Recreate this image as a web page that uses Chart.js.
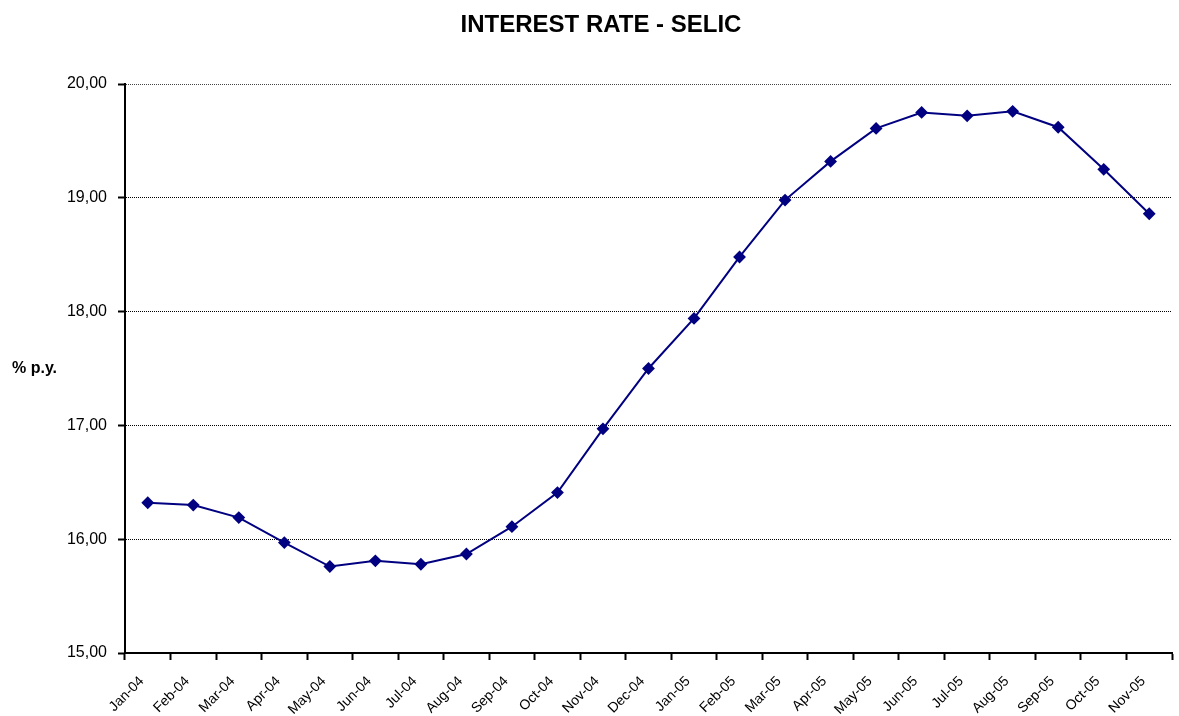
<!DOCTYPE html>
<html>
<head>
<meta charset="utf-8">
<script src="https://cdn.jsdelivr.net/npm/chart.js@4/dist/chart.umd.min.js"></script>
<style>
	html, body { margin: 0; padding: 0; background: #fff; }
	#wrap { width: 1179px; height: 716px; }
</style>
</head>
<body>
<div id="wrap"><canvas id="selicChart"></canvas></div>
<script>
// categories (monthly)
const months = ["Jan-04", "Feb-04", "Mar-04", "Apr-04", "May-04", "Jun-04", "Jul-04", "Aug-04",
	"Sep-04", "Oct-04", "Nov-04", "Dec-04", "Jan-05", "Feb-05", "Mar-05", "Apr-05",
	"May-05", "Jun-05", "Jul-05", "Aug-05", "Sep-05", "Oct-05", "Nov-05"];

// SELIC rate, % p.y.
const selic = [16.32, 16.30, 16.19, 15.97, 15.76, 15.81, 15.78, 15.87,
	16.11, 16.41, 16.97, 17.50, 17.94, 18.48, 18.98, 19.32,
	19.61, 19.75, 19.72, 19.76, 19.62, 19.25, 18.86];

// y axis range
const yMin = 15;
const yMax = 20;
const yStep = 1;

const chartTitle = "INTEREST RATE - SELIC";
const yLabel = "% p.y.";

const lineColor = "#000080";

//draws the title and the horizontal "% p.y." label
const textPlugin = {
	id: "textPlugin",
	afterDraw(chart) {
		let ctx = chart.ctx;
		let area = chart.chartArea;
		ctx.save();
		ctx.fillStyle = "#000";
		ctx.textBaseline = "middle";

		ctx.font = "bold 24px 'Liberation Sans', Arial, sans-serif";
		ctx.textAlign = "center";
		ctx.fillText(chartTitle, 601, 25);

		ctx.font = "bold 16px 'Liberation Sans', Arial, sans-serif";
		ctx.textAlign = "left";
		ctx.fillText(yLabel, 12, (area.top + area.bottom) / 2);
		ctx.restore();
	}
};

let ctxL = document.getElementById("selicChart").getContext("2d");
let selicChart = new Chart(ctxL, {
	type: "line",
	data: {
		labels: months,
		datasets: [{
			label: "SELIC",
			data: selic,
			borderColor: lineColor,
			backgroundColor: lineColor,
			borderWidth: 2,
			pointStyle: "rectRot",
			pointRadius: 5,
			pointHoverRadius: 5,
			pointBackgroundColor: lineColor,
			pointBorderColor: lineColor,
			tension: 0
		}]
	},
	options: {
		responsive: true,
		maintainAspectRatio: false,
		animation: false,
		layout: {
			padding: { left: 0, right: 7, top: 84, bottom: 0 }
		},
		plugins: {
			legend: { display: false },
			tooltip: { enabled: false },
			title: { display: false }
		},
		scales: {
			x: {
				type: "category",
				offset: true,
				grid: {
					display: true,
					offset: true,
					drawOnChartArea: false,
					drawTicks: true,
					tickLength: 7,
					tickColor: "#000",
					tickWidth: 2
				},
				border: { display: true, color: "#000", width: 2 },
				ticks: {
					autoSkip: false,
					maxRotation: 45,
					minRotation: 45,
					padding: 13,
					labelOffset: -6,
					color: "#000",
					font: { family: "'Liberation Sans Narrow', 'Liberation Sans', Arial, sans-serif", size: 14 }
				},
				afterFit(scale) {
					scale.height = 63;
				}
			},
			y: {
				min: yMin,
				max: yMax,
				grid: {
					color: (c) => {
						if (c.tick && c.tick.value === yMin) return "rgba(0,0,0,0)";
						if (c.tick && c.tick.value === yMax) return "#444";
						return "#000";
					},
					lineWidth: 1,
					drawTicks: true,
					tickLength: 7,
					tickColor: "#000",
					tickWidth: 2
				},
				border: { display: true, color: "#000", width: 2, dash: [1, 1] },
				ticks: {
					stepSize: yStep,
					padding: 11,
					color: "#000",
					font: { family: "'Liberation Sans', Arial, sans-serif", size: 16 },
					callback: (v) => v.toFixed(2).replace(".", ",")
				},
				afterFit(scale) {
					scale.width = 125;
				}
			}
		}
	},
	plugins: [textPlugin]
});
</script>
</body>
</html>
